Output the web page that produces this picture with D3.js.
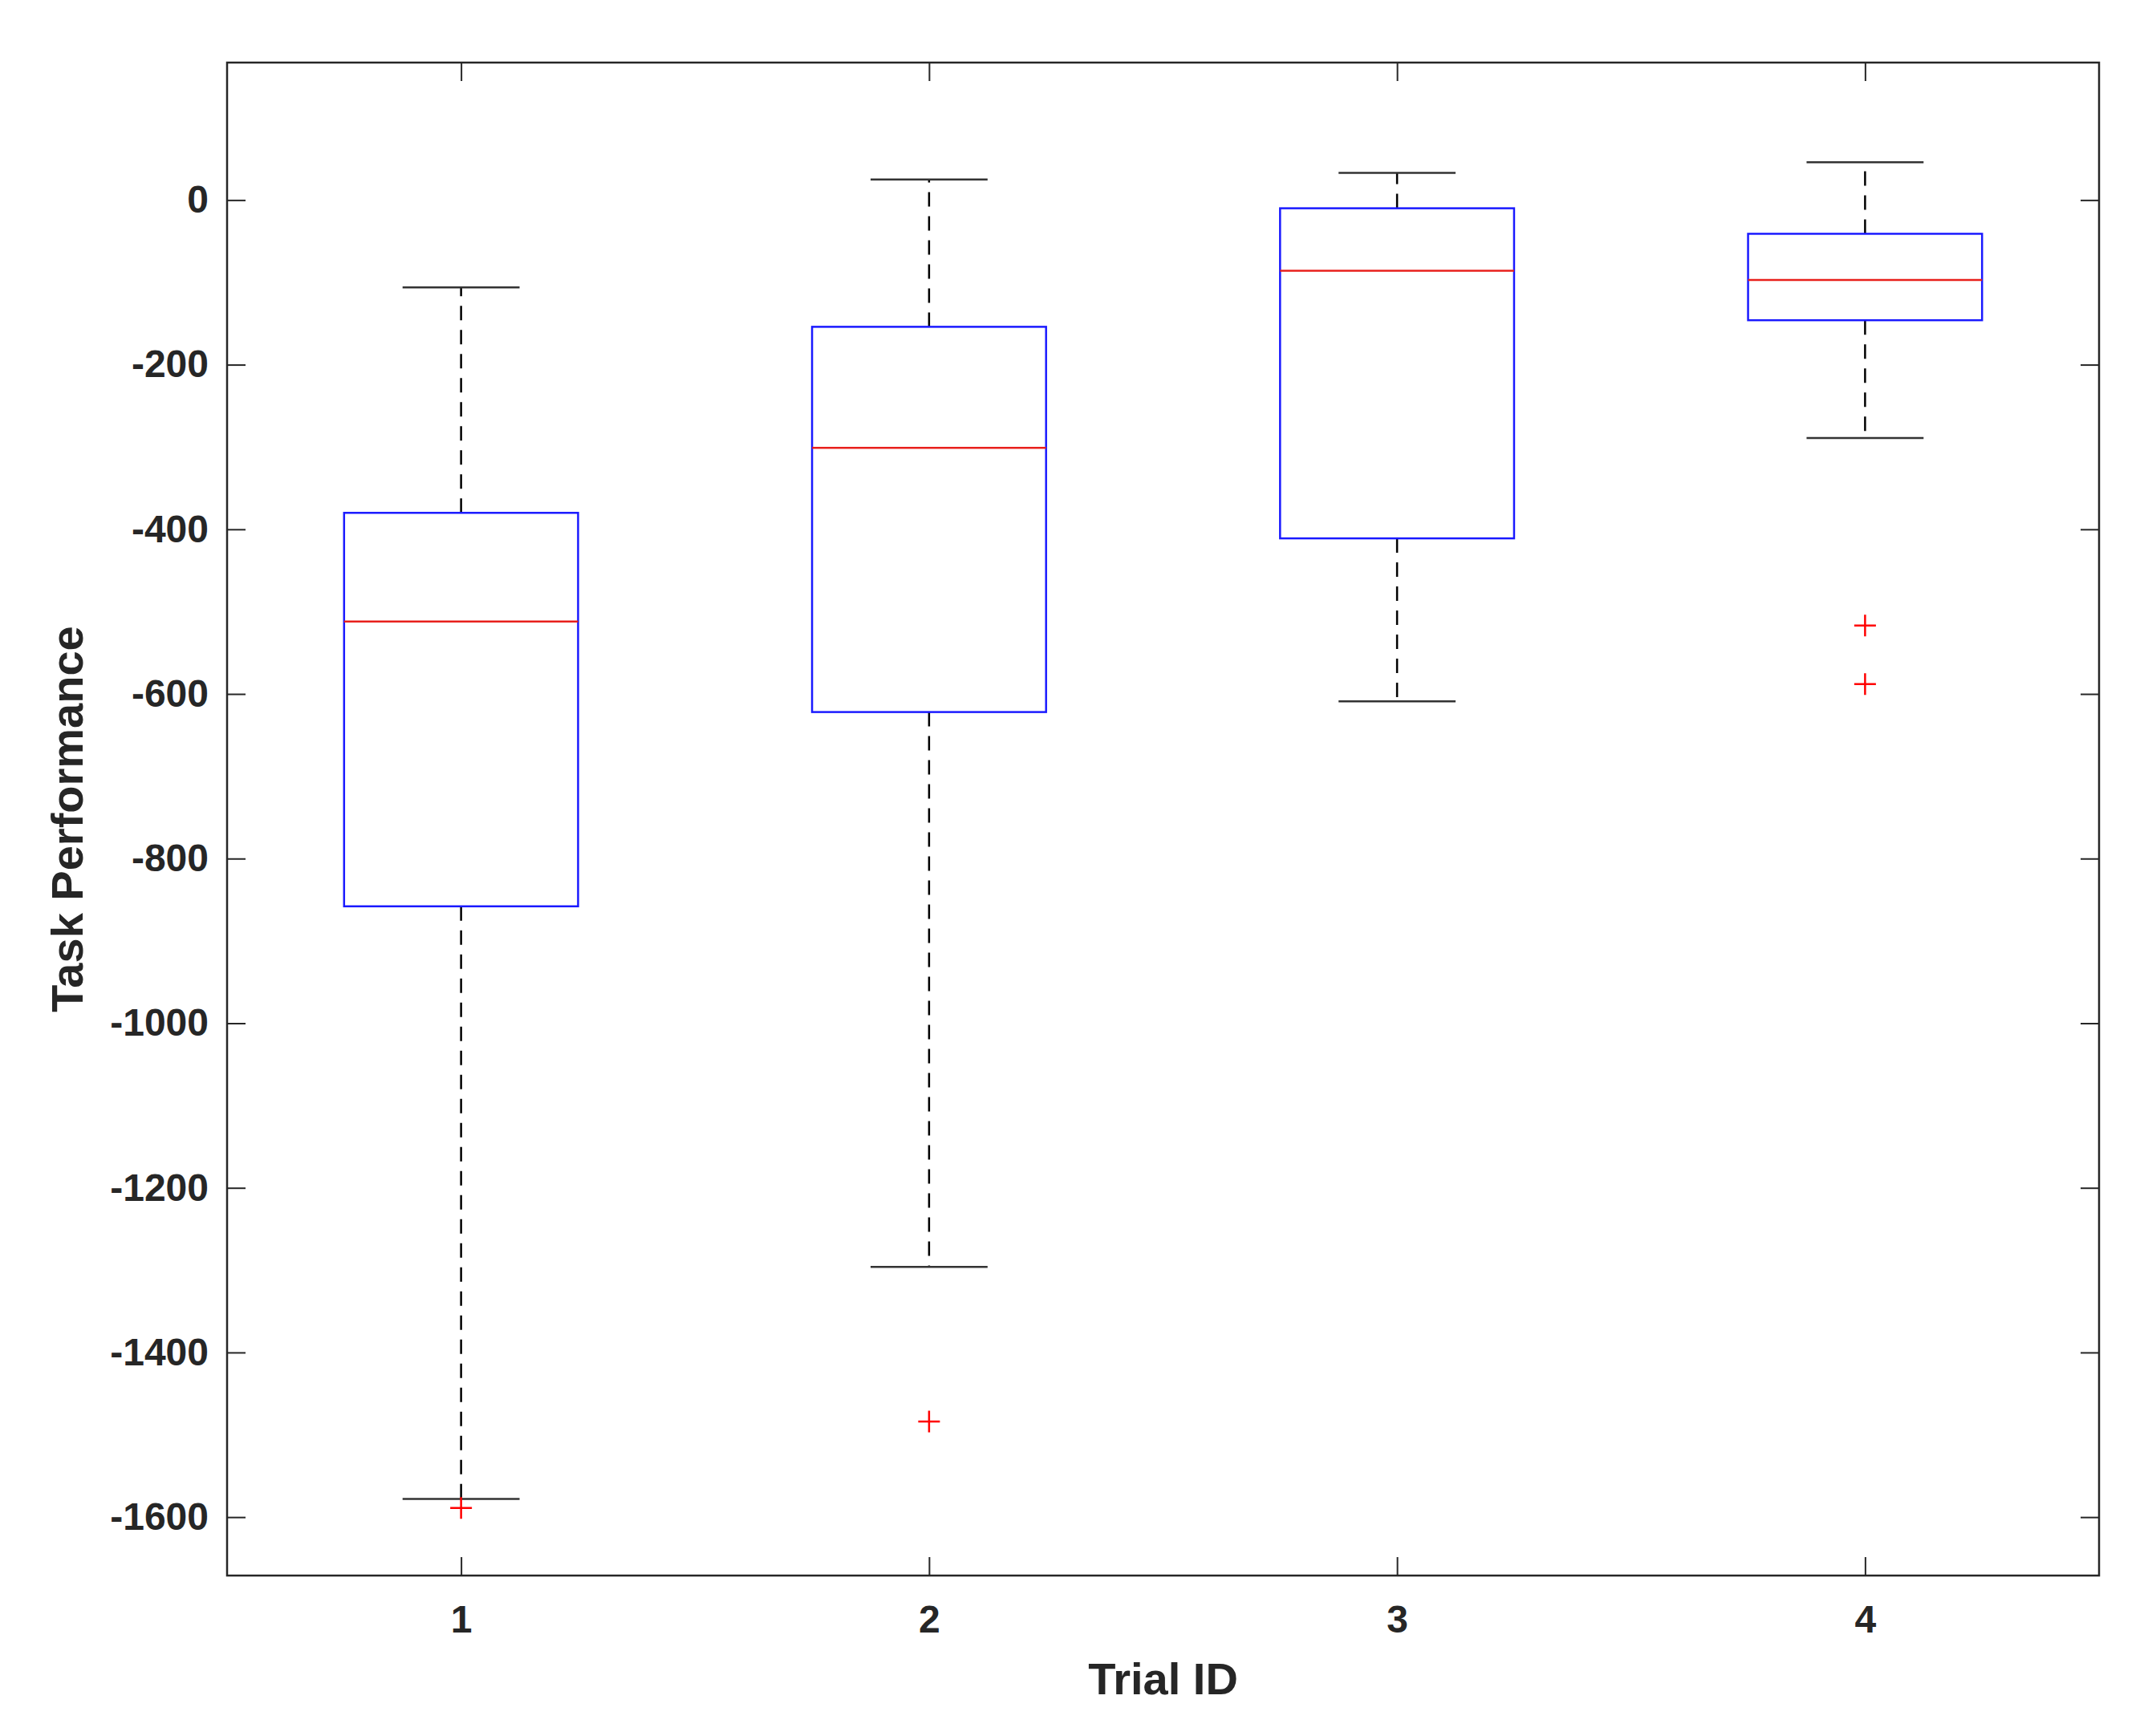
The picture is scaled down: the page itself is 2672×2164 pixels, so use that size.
<!DOCTYPE html>
<html>
<head>
<meta charset="utf-8">
<script src="https://cdn.jsdelivr.net/npm/d3@7"></script>
<style>
  body { margin: 0; background: #fff; }
  text { font-family: "Liberation Sans", Arial, sans-serif; font-weight: bold; fill: #262626; }
</style>
</head>
<body>
<script>

// data
var trials = [1, 2, 3, 4];
var upperWhisker = [-106, 25, 33, 46];
var q3 = [-380, -154, -10, -41];
var medians = [-512, -301, -86, -97];
var q1 = [-858, -622, -411, -146];
var lowerWhisker = [-1578, -1296, -609, -289];
var outliers = [[-1589], [-1484], [], [-517, -588]];
var yTicks = [-1600, -1400, -1200, -1000, -800, -600, -400, -200, 0];

var width = 2672;
var height = 2164;

var plotLeft = 283, plotRight = 2616, plotTop = 78, plotBottom = 1964;

var svg = d3.select("body").append("svg")
	.attr("width", width)
	.attr("height", height);

var x = d3.scaleLinear().domain([0.5, 4.5]).range([plotLeft, plotRight]);
var y = d3.scaleLinear().domain([-1671, 167]).range([plotBottom, plotTop]);

var data = trials.map(function(t, i) {
	return {
		id: t,
		hi: upperWhisker[i],
		q3: q3[i],
		med: medians[i],
		q1: q1[i],
		lo: lowerWhisker[i],
		out: outliers[i]
	};
});

var tickLen = 23;
var plain = function(d) { return String(d); };

// axes (ticks inside, matlab style)
svg.append("g")
	.attr("transform", "translate(" + plotLeft + ",0)")
	.call(d3.axisLeft(y).tickValues(yTicks).tickSize(-tickLen).tickSizeOuter(0).tickPadding(23).tickFormat(plain))
	.call(function(g) { g.select(".domain").remove(); })
	.selectAll("text").style("font-size", "48px").attr("fill", "#262626");

svg.append("g")
	.attr("transform", "translate(" + plotRight + ",0)")
	.call(d3.axisRight(y).tickValues(yTicks).tickSize(-tickLen).tickSizeOuter(0).tickFormat(""))
	.call(function(g) { g.select(".domain").remove(); });

svg.append("g")
	.attr("transform", "translate(0," + plotBottom + ")")
	.call(d3.axisBottom(x).tickValues(trials).tickSize(-tickLen).tickSizeOuter(0).tickPadding(37).tickFormat(plain))
	.call(function(g) { g.select(".domain").remove(); })
	.selectAll("text").style("font-size", "48px").attr("fill", "#262626");

svg.append("g")
	.attr("transform", "translate(0," + plotTop + ")")
	.call(d3.axisTop(x).tickValues(trials).tickSize(-tickLen).tickSizeOuter(0).tickFormat(""))
	.call(function(g) { g.select(".domain").remove(); });

svg.selectAll(".tick line").attr("stroke", "#262626").attr("stroke-width", 2);

var boxes = svg.selectAll(".box")
	.data(data)
	.enter()
	.append("g")
	.attr("class", "box");

// dashed whiskers
boxes.append("line")
	.attr("x1", function(d) { return x(d.id); })
	.attr("x2", function(d) { return x(d.id); })
	.attr("y1", function(d) { return y(d.q3); })
	.attr("y2", function(d) { return y(d.hi); })
	.attr("stroke", "#000")
	.attr("stroke-width", 2.5)
	.attr("stroke-dasharray", "18,12");

boxes.append("line")
	.attr("x1", function(d) { return x(d.id); })
	.attr("x2", function(d) { return x(d.id); })
	.attr("y1", function(d) { return y(d.q1); })
	.attr("y2", function(d) { return y(d.lo); })
	.attr("stroke", "#000")
	.attr("stroke-width", 2.5)
	.attr("stroke-dasharray", "18,12");

// caps
["hi", "lo"].forEach(function(k) {
	boxes.append("line")
		.attr("x1", function(d) { return x(d.id - 0.125); })
		.attr("x2", function(d) { return x(d.id + 0.125); })
		.attr("y1", function(d) { return y(d[k]); })
		.attr("y2", function(d) { return y(d[k]); })
		.attr("stroke", "#333")
		.attr("stroke-width", 2.5);
});

boxes.append("rect")
	.attr("x", function(d) { return x(d.id - 0.25); })
	.attr("width", function(d) { return x(d.id + 0.25) - x(d.id - 0.25); })
	.attr("y", function(d) { return y(d.q3); })
	.attr("height", function(d) { return y(d.q1) - y(d.q3); })
	.attr("fill", "none")
	.attr("stroke", "#1a1aff")
	.attr("stroke-width", 2.5);

boxes.append("line")
	.attr("x1", function(d) { return x(d.id - 0.25); })
	.attr("x2", function(d) { return x(d.id + 0.25); })
	.attr("y1", function(d) { return y(d.med); })
	.attr("y2", function(d) { return y(d.med); })
	.attr("stroke", "#e8201c")
	.attr("stroke-width", 2.5);

// outliers as red plus signs
var m = 13.5;
boxes.selectAll(".out")
	.data(function(d) { return d.out.map(function(v) { return { id: d.id, v: v }; }); })
	.enter()
	.append("path")
	.attr("class", "out")
	.attr("d", function(d) {
		var cx = x(d.id), cy = y(d.v);
		return "M" + (cx - m) + "," + cy + "H" + (cx + m) + "M" + cx + "," + (cy - m) + "V" + (cy + m);
	})
	.attr("stroke", "#ff0000")
	.attr("stroke-width", 2.5)
	.attr("fill", "none");

// frame
svg.append("rect")
	.attr("x", plotLeft)
	.attr("y", plotTop)
	.attr("width", plotRight - plotLeft)
	.attr("height", plotBottom - plotTop)
	.attr("fill", "none")
	.attr("stroke", "#262626")
	.attr("stroke-width", 2.5);

svg.append("text")
	.attr("x", (plotLeft + plotRight) / 2)
	.attr("y", 2112)
	.style("text-anchor", "middle")
	.style("font-size", "56px")
	.text("Trial ID");

svg.append("text")
	.attr("transform", "translate(103," + (plotTop + plotBottom) / 2 + ") rotate(-90)")
	.style("text-anchor", "middle")
	.style("font-size", "56px")
	.text("Task Performance");

</script>
</body>
</html>
